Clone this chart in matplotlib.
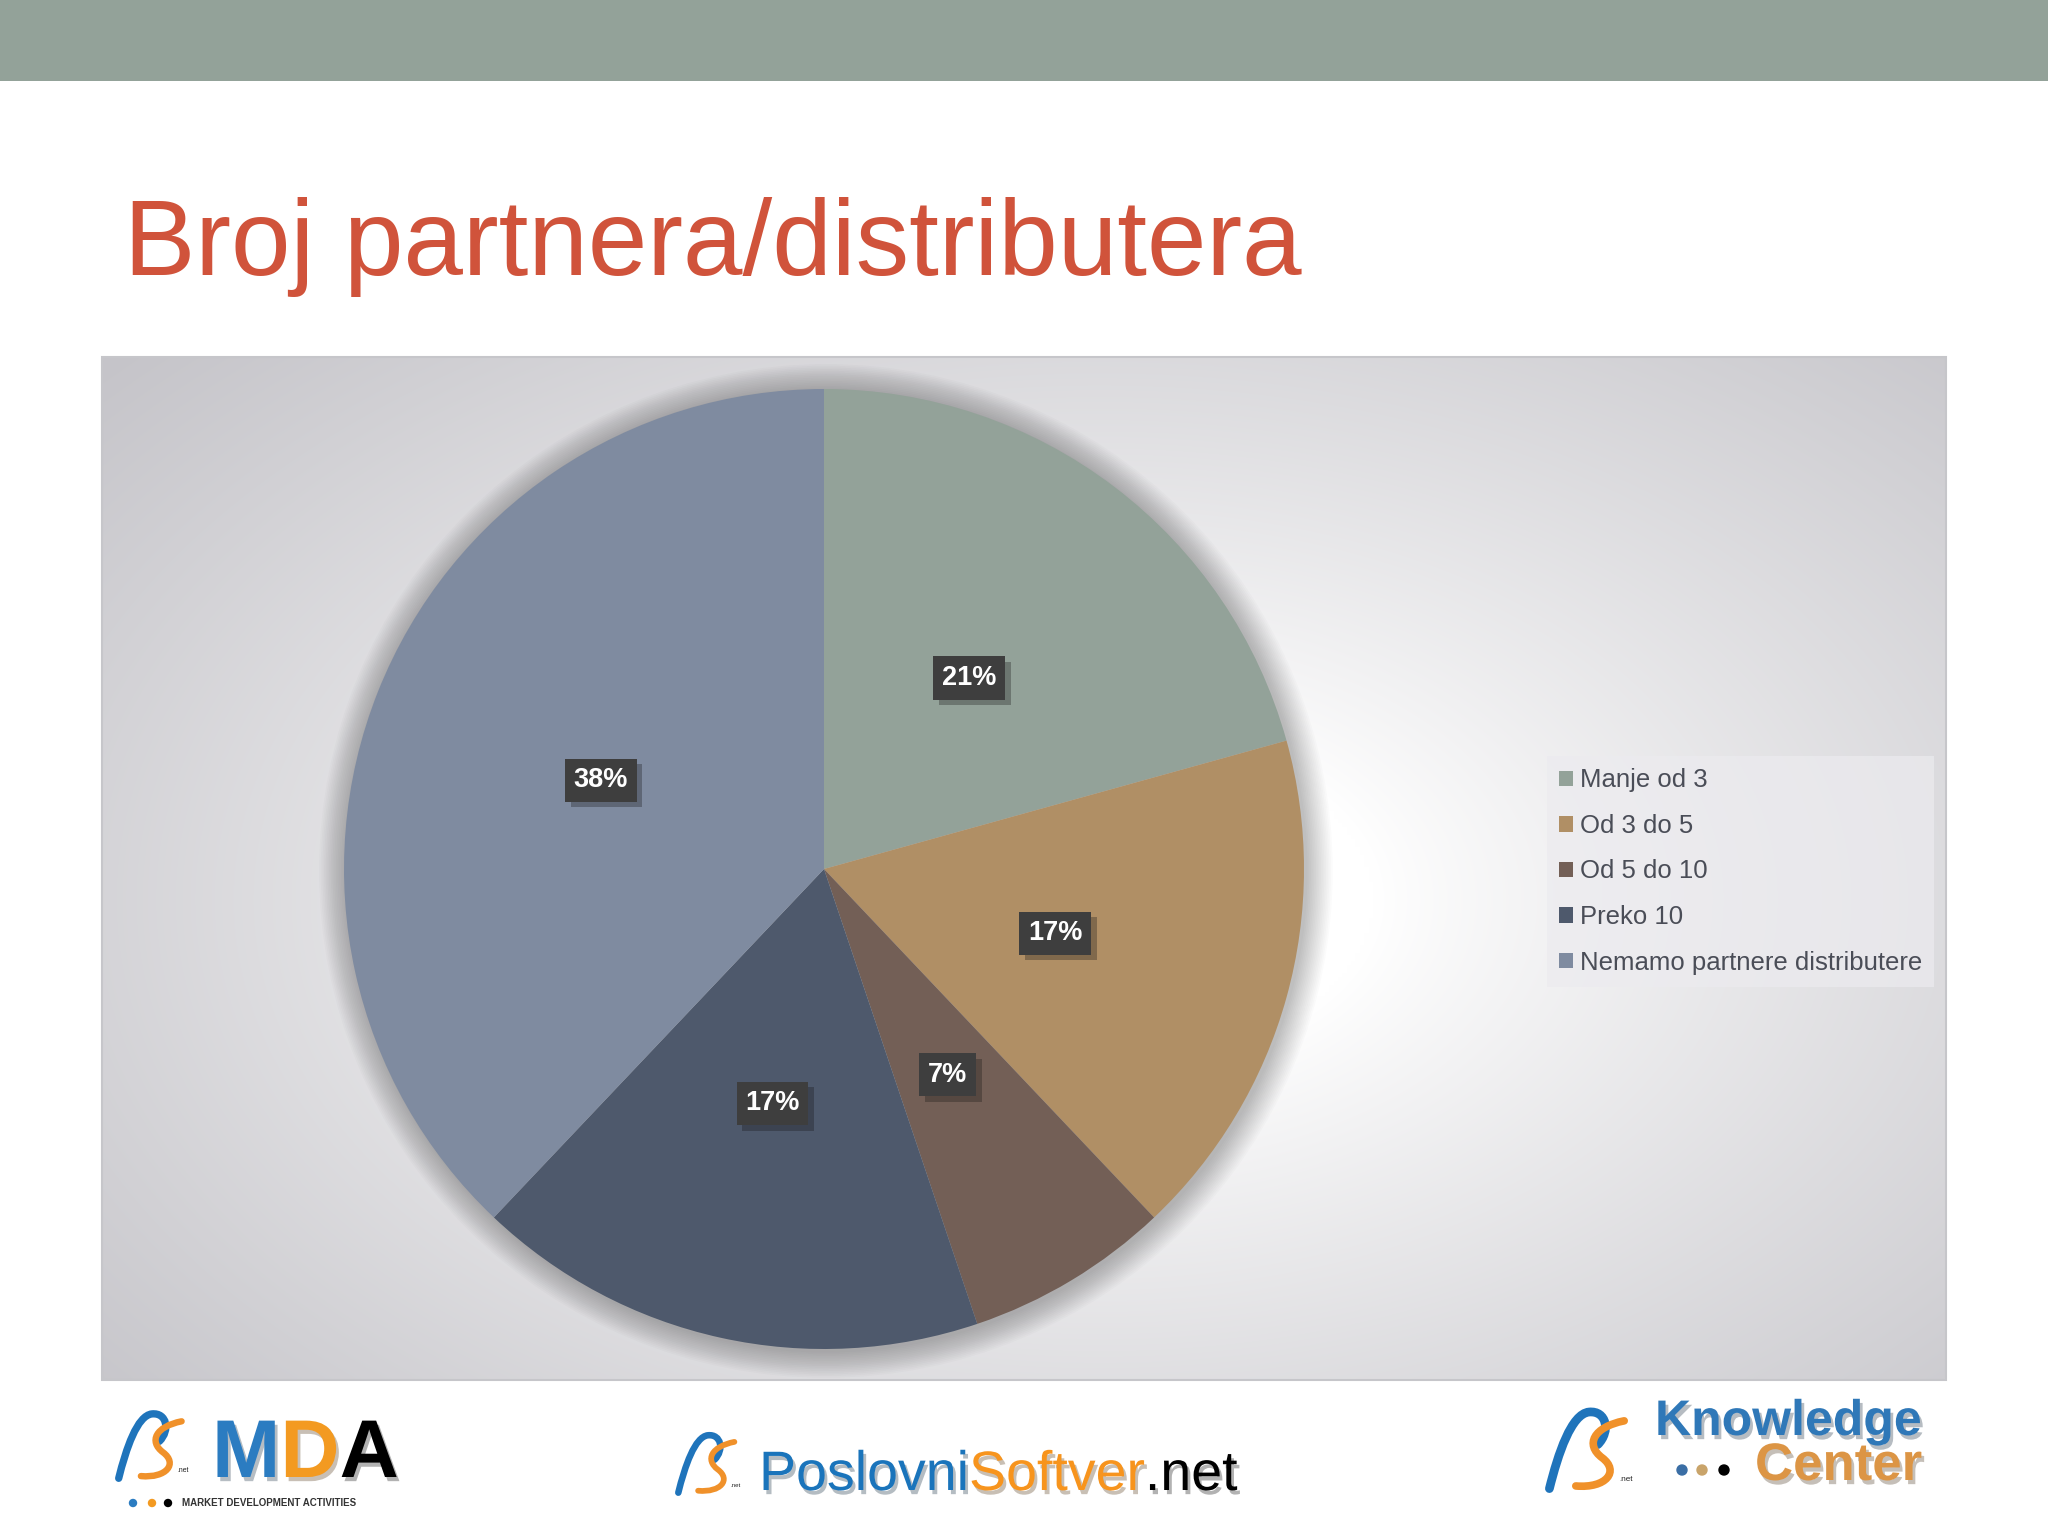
import numpy as np
import matplotlib.pyplot as plt
import matplotlib.patheffects as pe
from matplotlib.patches import Rectangle, Circle, PathPatch
from matplotlib.path import Path

plt.rcParams['font.family'] = ['Liberation Sans', 'DejaVu Sans']

title = "Broj partnera/distributera"
categories = ["Manje od 3", "Od 3 do 5", "Od 5 do 10", "Preko 10",
              "Nemamo partnere distributere"]
counts = [6, 5, 2, 5, 11]
colors = ["#93a299", "#b08f65", "#735f56", "#4e596c", "#7f8ba0"]

W, H = 2048, 1536
fig = plt.figure(figsize=(W / 100, H / 100), dpi=100)
fig.patch.set_facecolor('white')

# background axes in pixel coordinates (y down)
bg = fig.add_axes([0, 0, 1, 1])
bg.axis('off')

bg.add_patch(Rectangle((0, 0), W, 81, color='#93a299', lw=0))
bg.text(124, 275, title, fontsize=77, color='#d0533b', va='baseline')

# chart area with soft radial gradient
x0, x1, y0, y1 = 102, 1946, 357, 1380
xx, yy = np.meshgrid(np.linspace(x0, x1, 420), np.linspace(y0, y1, 260))
d = np.hypot((xx - 1100) / 920, (yy - 900) / 560)
k = np.clip((d - 0.3) / 1.15, 0, 1) ** 0.85
base = np.array([197, 196, 201]) / 255
img = 1 - k[..., None] * (1 - base)
bg.imshow(img, extent=(x0, x1, y1, y0), aspect='auto', zorder=1,
          interpolation='bilinear')
bg.add_patch(Rectangle((x0, y0), x1 - x0, y1 - y0, fill=False,
                       ec='#c6c6ca', lw=1.5, zorder=2))


def swoosh(ax, x, y, s):
    P = lambda pts: [(x + px * s, y + py * s) for px, py in pts]
    blue = Path(P([(0.05, 0.95), (0.15, 0.55), (0.3, 0.1), (0.5, 0.08),
                   (0.7, 0.06), (0.75, 0.3), (0.6, 0.45)]),
                [Path.MOVETO] + [Path.CURVE4] * 6)
    orange = Path(P([(0.9, 0.18), (0.55, 0.25), (0.45, 0.45), (0.65, 0.6),
                     (0.85, 0.75), (0.7, 0.95), (0.35, 0.92)]),
                  [Path.MOVETO] + [Path.CURVE4] * 6)
    ax.add_patch(PathPatch(blue, fill=False, ec='#1f74bb', lw=s / 14,
                           capstyle='round', zorder=3))
    ax.add_patch(PathPatch(orange, fill=False, ec='#f0912a', lw=s / 16,
                           capstyle='round', zorder=3))
    ax.text(x + 0.84 * s, y + 0.86 * s, '.net', fontsize=s / 15,
            color='#222222', zorder=3)


shadow = [pe.withSimplePatchShadow(offset=(2, -3), alpha=0.3)]


def word_row(ax, x, y, parts, size, weight='normal'):
    t = ax.text(x, y, parts[0][0], fontsize=size, fontweight=weight,
                color=parts[0][1], va='baseline', zorder=3,
                path_effects=shadow)
    for txt, col in parts[1:]:
        t = ax.annotate(txt, xy=(1, 0), xycoords=t, va='bottom',
                        fontsize=size, fontweight=weight, color=col,
                        zorder=3, path_effects=shadow)


# MDA logo
swoosh(bg, 115, 1408, 74)
word_row(bg, 212, 1477, [('M', '#2b7cc1'), ('D', '#f39a21'), ('A', 'black')],
         59, 'bold')
for xd, cd in zip([133, 152, 168], ['#2b7cc1', '#f39a21', 'black']):
    bg.add_patch(Circle((xd, 1503), 3.5, color=cd, zorder=3))
bg.text(182, 1503, 'MARKET DEVELOPMENT ACTIVITIES', fontsize=7,
        fontweight='bold', color='#333333', va='center', zorder=3)

# PoslovniSoftver logo
swoosh(bg, 675, 1430, 66)
word_row(bg, 759, 1490, [('Poslovni', '#1a74bb'), ('Softver', '#f7941d'),
                         ('.net', 'black')], 40)

# Knowledge Center logo
swoosh(bg, 1545, 1405, 88)
bg.text(1655, 1435, 'Knowledge', fontsize=36, fontweight='bold',
        color='#2f78b8', va='baseline', zorder=3, path_effects=shadow)
bg.text(1755, 1480, 'Center', fontsize=38, fontweight='bold',
        color='#dc9545', va='baseline', zorder=3, path_effects=shadow)
for xd, cd in zip([1682, 1702, 1724], ['#3a6ea5', '#c9a46a', 'black']):
    bg.add_patch(Circle((xd, 1470), 5, color=cd, zorder=3))

bg.set_xlim(0, W)
bg.set_ylim(H, 0)

# pie
cx, cy, r = 824, 869, 480
pax = fig.add_axes([(cx - r) / W, (H - cy - r) / H, 2 * r / W, 2 * r / H])
pax.patch.set_alpha(0)
wedges, _, autotexts = pax.pie(
    counts, colors=colors, startangle=90, counterclock=False,
    autopct='%1.0f%%', pctdistance=0.5,
    wedgeprops=dict(linewidth=0, zorder=2),
    textprops=dict(color='white', fontsize=19.5, fontweight='bold'))
for i in range(16):
    pax.add_patch(Circle((0.004, -0.004), 1 + 0.0035 * (i + 1), color='black',
                         alpha=0.016, lw=0, zorder=0, clip_on=False))
for t in autotexts:
    t.set_zorder(5)
    t.set_bbox(dict(boxstyle='square,pad=0.32', fc='#3e3e3e', ec='none'))
    t.get_bbox_patch().set_path_effects(
        [pe.SimplePatchShadow(offset=(4, -4), alpha=0.3), pe.Normal()])
pax.axis('off')
pax.set_xlim(-1, 1)
pax.set_ylim(-1, 1)

fig.legend(wedges, categories, loc='upper left',
           bbox_to_anchor=(1547 / W, 1 - 756 / H), fontsize=18.5,
           frameon=True, fancybox=False, facecolor='#ecebef',
           edgecolor='none', framealpha=0.7, handlelength=0.55,
           handleheight=0.55, handletextpad=0.25, labelspacing=0.84,
           borderpad=0.48, borderaxespad=0, labelcolor='#4a4d57')

fig.savefig('out.png', dpi=100)
